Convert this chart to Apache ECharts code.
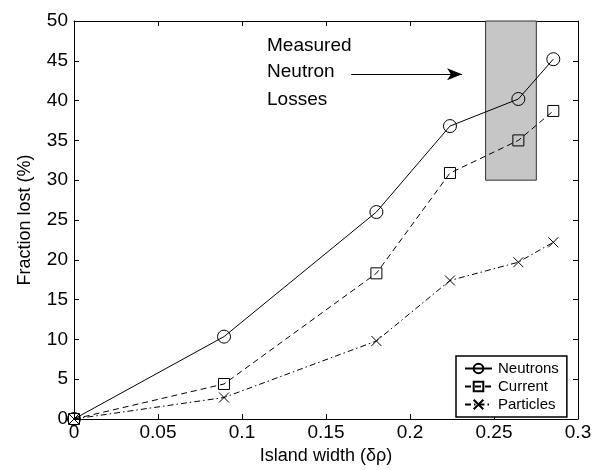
<!DOCTYPE html>
<html>
<head>
<meta charset="utf-8">
<script src="https://cdn.jsdelivr.net/npm/echarts@6/dist/echarts.min.js"></script>
<style>
html,body{margin:0;padding:0;background:#fff;}
#chart{width:605px;height:470px;}
</style>
</head>
<body>
<div id="chart"></div>
<script>
const xValues = [0, 0.0893, 0.180, 0.2238, 0.2645, 0.2853];
const neutrons = [0, 10.35, 26.0, 36.8, 40.2, 45.2];
const current = [0, 4.4, 18.3, 30.9, 35.0, 38.7];
const particles = [0, 2.7, 9.8, 17.4, 19.7, 22.2];
const seriesNames = ['Neutrons', 'Current', 'Particles'];
const measuredBox = { x: [0.245, 0.2752], y: [30, 50] };
const arrowLine = { x: [0.165, 0.231], y: 43.3 };
const annotationLines = ['Measured', 'Neutron', 'Losses'];
const annotationPos = { x: 0.1149, y: [46.9, 43.6, 40.1] };

const FONT = 'Liberation Sans, Arial, Helvetica, sans-serif';
const chart = echarts.init(document.getElementById('chart'), null, { renderer: 'canvas' });

function pairs(ys) { return xValues.map((x, i) => [x, ys[i]]); }

const axisCommon = {
  type: 'value',
  axisLine: { show: true, onZero: false, lineStyle: { color: '#000', width: 1 } },
  axisTick: { show: true, inside: true, length: 5, lineStyle: { color: '#000' } },
  splitLine: { show: false }
};

const option = {
  animation: false,
  backgroundColor: '#fff',
  textStyle: { fontFamily: FONT },
  grid: { left: 74, right: 27, top: 21, bottom: 51, outerBoundsMode: 'none', containLabel: false },
  xAxis: [
    Object.assign({}, axisCommon, {
      min: 0, max: 0.3, interval: 0.05, position: 'bottom',
      axisLabel: { color: '#000', fontSize: 19, fontFamily: FONT, margin: 4,
        formatter: v => String(+v.toFixed(2)) },
      name: '{a|Island width }{b|(δρ)}', nameLocation: 'middle', nameGap: 20,
      nameTextStyle: { rich: {
        a: { fontSize: 18, fontFamily: FONT, color: '#000' },
        b: { fontSize: 18, fontFamily: FONT, color: '#000' } } }
    }),
    Object.assign({}, axisCommon, {
      min: 0, max: 0.3, interval: 0.05, position: 'top',
      axisLabel: { show: false }
    })
  ],
  yAxis: [
    Object.assign({}, axisCommon, {
      min: 0, max: 50, interval: 5, position: 'left',
      axisLabel: { color: '#000', fontSize: 19, fontFamily: FONT, margin: 6 },
      name: 'Fraction lost (%)', nameLocation: 'middle', nameGap: 40,
      nameTextStyle: { fontSize: 18, fontFamily: FONT, color: '#000' }
    }),
    Object.assign({}, axisCommon, {
      min: 0, max: 50, interval: 5, position: 'right',
      axisLabel: { show: false }
    })
  ],
  legend: {
    orient: 'vertical',
    left: 456, top: 356,
    width: 117,
    padding: [5, 8, 5, 8],
    itemGap: 3,
    itemWidth: 27, itemHeight: 12,
    borderColor: '#000', borderWidth: 1.5,
    backgroundColor: '#fff',
    textStyle: { fontSize: 15, fontFamily: FONT, color: '#000', padding: [0, 0, 0, 1] },
    data: seriesNames
  },
  series: [
    {
      name: 'box', type: 'line', data: [], silent: true, z: 1,
      markArea: {
        silent: true,
        itemStyle: { color: '#c6c6c6', borderColor: '#333', borderWidth: 1 },
        data: [[{ coord: [measuredBox.x[0], measuredBox.y[0]] }, { coord: [measuredBox.x[1], measuredBox.y[1]] }]]
      },
      markLine: {
        silent: true,
        symbol: ['none', 'arrow'], symbolSize: [9, 15],
        label: { show: false },
        lineStyle: { color: '#000', width: 1, type: 'solid' },
        data: [[{ coord: [arrowLine.x[0], arrowLine.y] }, { coord: [arrowLine.x[1], arrowLine.y] }]]
      }
    },
    {
      name: 'Neutrons', type: 'line', data: pairs(neutrons), z: 3,
      symbol: 'circle', symbolSize: 13,
      lineStyle: { color: '#000', width: 1, type: 'solid' },
      itemStyle: { color: 'transparent', borderColor: '#000', borderWidth: 1 }
    },
    {
      name: 'Current', type: 'line', data: pairs(current), z: 3,
      symbol: 'rect', symbolSize: 11,
      lineStyle: { color: '#000', width: 1, type: [6, 4] },
      itemStyle: { color: 'transparent', borderColor: '#000', borderWidth: 1 }
    },
    {
      name: 'Particles', type: 'line', data: pairs(particles), z: 3,
      symbol: 'path://M0,0L10,10M10,0L0,10', symbolSize: 10,
      lineStyle: { color: '#000', width: 1, type: [6, 3, 1.5, 3] },
      itemStyle: { color: 'transparent', borderColor: '#000', borderWidth: 1 }
    }
  ]
};

chart.setOption(option);

const textEls = annotationLines.map((t, i) => {
  const p = chart.convertToPixel({ gridIndex: 0 }, [annotationPos.x, annotationPos.y[i]]);
  return {
    type: 'text', x: p[0], y: p[1], z: 10,
    style: { text: t, fontSize: 19, fontFamily: FONT, fill: '#000', textVerticalAlign: 'middle', verticalAlign: 'middle' }
  };
});
chart.setOption({ graphic: textEls });
</script>
</body>
</html>
